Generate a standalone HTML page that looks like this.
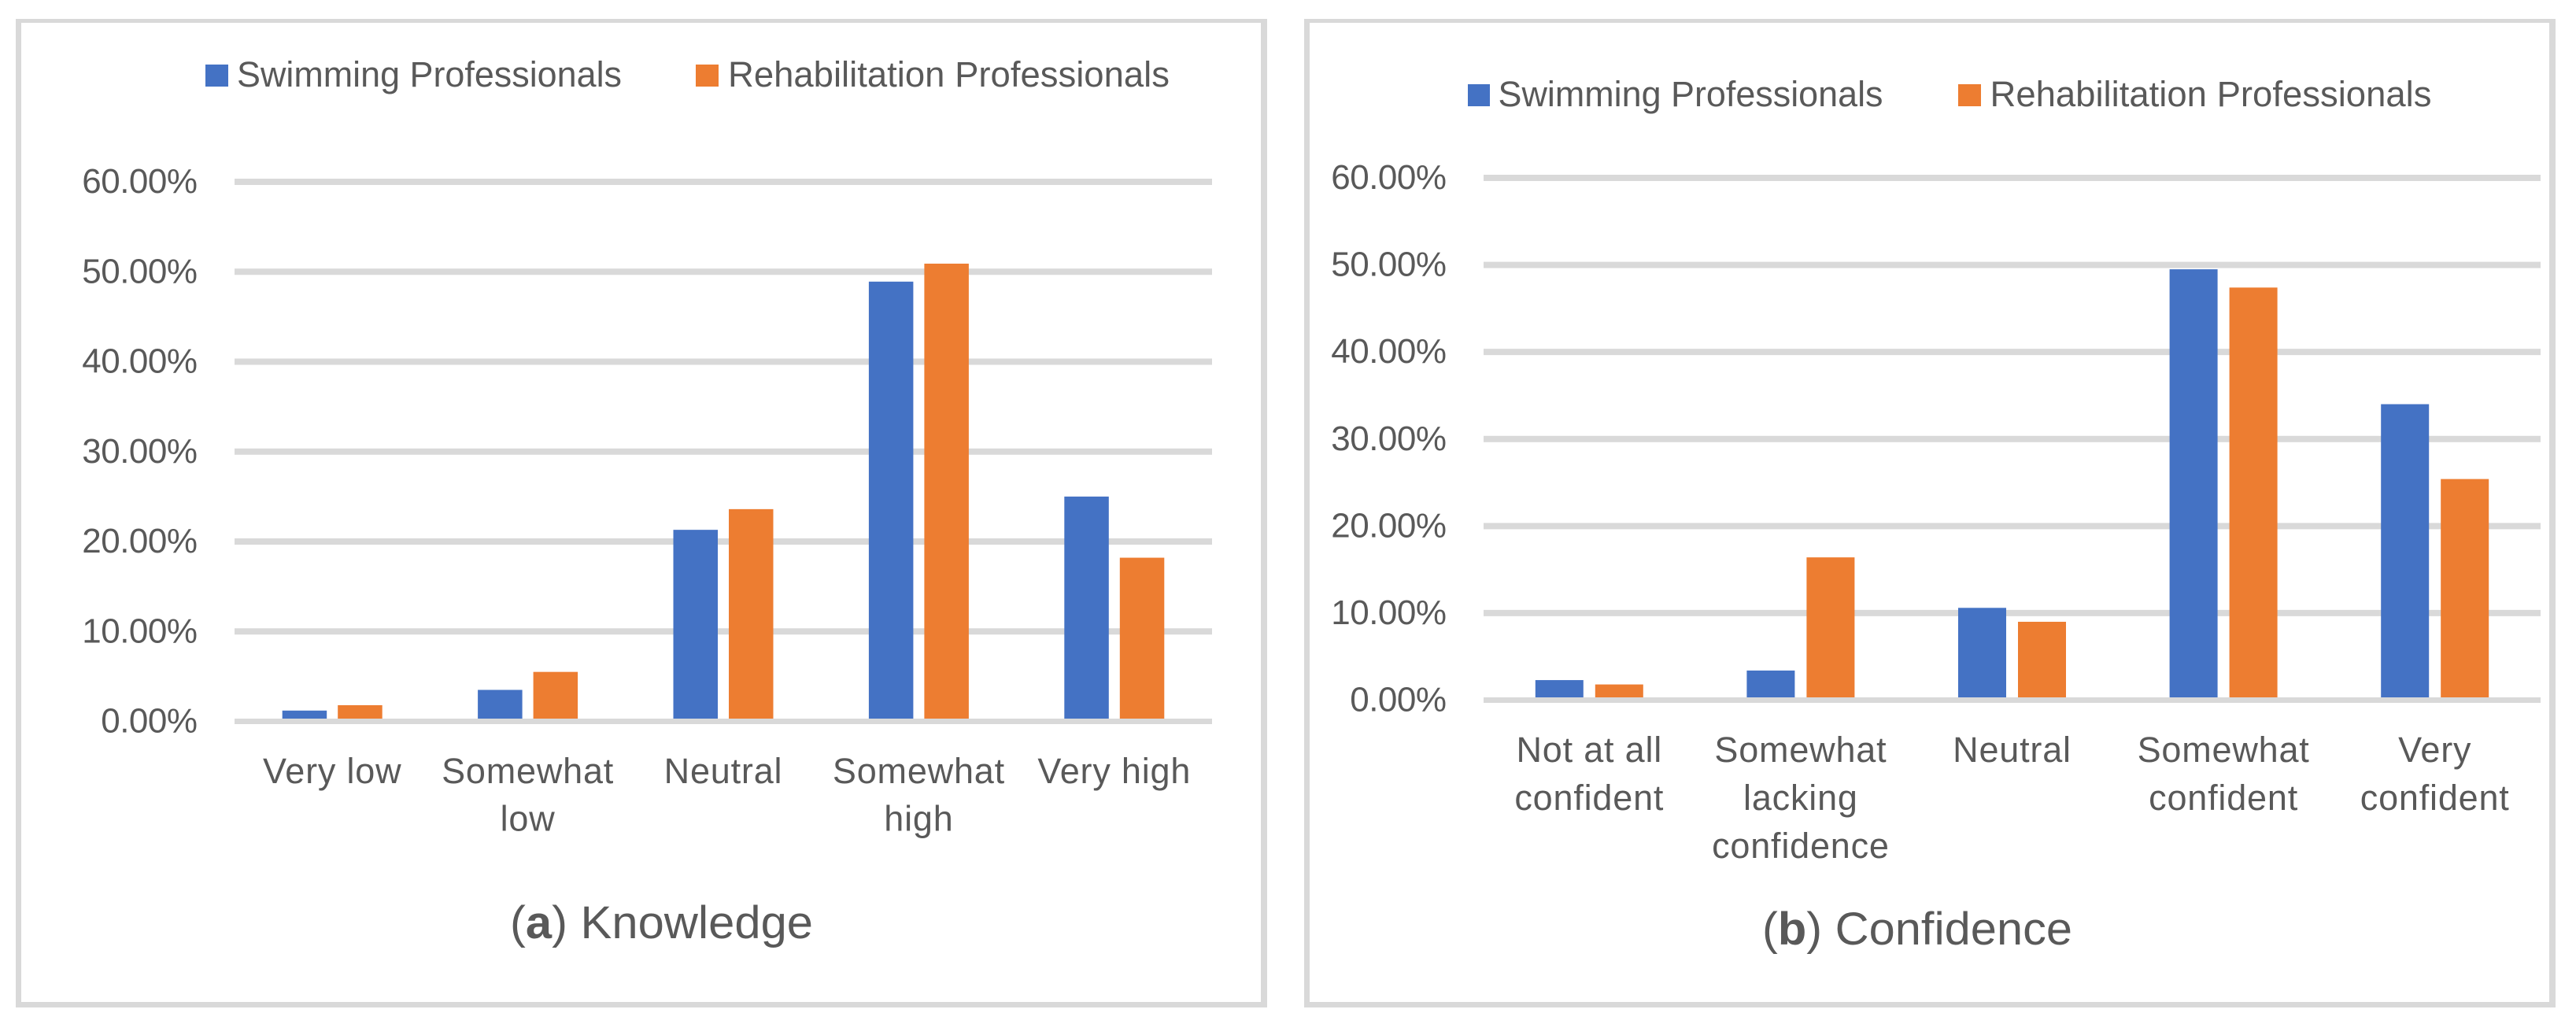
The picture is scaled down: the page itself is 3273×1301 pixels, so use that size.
<!DOCTYPE html>
<html lang="en">
<head>
<meta charset="utf-8">
<title>Knowledge and Confidence</title>
<style>
html,body{margin:0;padding:0;background:#fff;width:3273px;height:1301px;overflow:hidden}
svg{display:block}
text{font-family:"Liberation Sans",sans-serif;fill:#595959}
.tick{font-size:44px;letter-spacing:-0.5px;text-anchor:end}
.cat{font-size:45px;letter-spacing:0.8px;text-anchor:middle}
.leg{font-size:45px}
.ttl{font-size:58px}
</style>
</head>
<body>
<svg id="figure" xmlns="http://www.w3.org/2000/svg" width="3273" height="1301" viewBox="0 0 3273 1301">
  <rect x="0" y="0" width="3273" height="1301" fill="#fff"/>

  <g id="panel-a">
    <path fill="#d9d9d9" fill-rule="evenodd" d="M20 24H1610V1280H20ZM27 29V1273H1602V29Z"/>
    <g>
      <rect x="261" y="82" width="29" height="28" fill="#4472c4"/>
      <text class="leg" x="301" y="110" textLength="489" lengthAdjust="spacingAndGlyphs">Swimming Professionals</text>
      <rect x="884" y="82" width="29" height="28" fill="#ed7d31"/>
      <text class="leg" x="925" y="110" textLength="561" lengthAdjust="spacingAndGlyphs">Rehabilitation Professionals</text>
    </g>
    <text class="ttl" x="648" y="1192" textLength="385" lengthAdjust="spacingAndGlyphs">(<tspan font-weight="bold">a</tspan>) Knowledge</text>
  </g>

  <g id="panel-b">
    <path fill="#d9d9d9" fill-rule="evenodd" d="M1657 24H3247V1280H1657ZM1664 29V1273H3239V29Z"/>
    <g>
      <rect x="1865" y="107" width="28" height="28" fill="#4472c4"/>
      <text class="leg" x="1903.5" y="135" textLength="489" lengthAdjust="spacingAndGlyphs">Swimming Professionals</text>
      <rect x="2488" y="107" width="29" height="28" fill="#ed7d31"/>
      <text class="leg" x="2528.5" y="135" textLength="561" lengthAdjust="spacingAndGlyphs">Rehabilitation Professionals</text>
    </g>
    <text class="ttl" x="2239" y="1200" textLength="394" lengthAdjust="spacingAndGlyphs">(<tspan font-weight="bold">b</tspan>) Confidence</text>
  </g>
</svg>
<script>
const tickValues = [0, 10, 20, 30, 40, 50, 60];
const tickLabels = ['0.00%', '10.00%', '20.00%', '30.00%', '40.00%', '50.00%', '60.00%'];

const knowledgeCategories = [['Very low'], ['Somewhat', 'low'], ['Neutral'], ['Somewhat', 'high'], ['Very high']];
const knowledgeSwimming = [1.2, 3.5, 21.3, 48.9, 25.0];
const knowledgeRehab = [1.8, 5.5, 23.6, 50.9, 18.2];

const confidenceCategories = [['Not at all', 'confident'], ['Somewhat', 'lacking', 'confidence'], ['Neutral'], ['Somewhat', 'confident'], ['Very', 'confident']];
const confidenceSwimming = [2.3, 3.4, 10.6, 49.5, 34.0];
const confidenceRehab = [1.8, 16.4, 9.0, 47.4, 25.4];

const NS = 'http://www.w3.org/2000/svg';

function svgEl(parent, tag, attrs, txt) {
  const el = document.createElementNS(NS, tag);
  for (const k in attrs) el.setAttribute(k, attrs[k]);
  if (txt !== undefined) el.textContent = txt;
  parent.appendChild(el);
  return el;
}

function drawChart(panelId, cats, swim, rehab, g) {
  const panel = document.getElementById(panelId);
  const yScale = v => g.y0 - (v / 60) * (g.y0 - g.y60);
  const band = (g.x1 - g.x0) / cats.length;
  const xCenter = i => g.x0 + band * (i + 0.5);

  tickValues.forEach((v, i) => {
    if (v === 0) return;
    const line = svgEl(panel, 'line', {x1: g.x0, x2: g.x1, y1: yScale(v), y2: yScale(v), stroke: '#d9d9d9', 'stroke-width': 8});
    
    
  });

  tickValues.forEach((v, i) => {
    const t = svgEl(panel, 'text', {class: 'tick', x: g.tickX, y: yScale(v) + g.tickDy}, tickLabels[i]);
    
    
  });

  cats.forEach((lines, i) => {
    const c = xCenter(i);
    const blue = svgEl(panel, 'rect', {x: c - g.gap / 2 - g.barW, y: yScale(swim[i]), width: g.barW, height: yScale(0) - yScale(swim[i]), fill: '#4472c4'});
    
    
    const orange = svgEl(panel, 'rect', {x: c + g.gap / 2, y: yScale(rehab[i]), width: g.barW, height: yScale(0) - yScale(rehab[i]), fill: '#ed7d31'});
    
    
    lines.forEach((ln, j) => {
      const t = svgEl(panel, 'text', {class: 'cat', x: c, y: g.catY + j * g.catLine}, ln);
      
      
    });
  });

  const axis = svgEl(panel, 'line', {x1: g.x0, x2: g.x1, y1: yScale(0), y2: yScale(0), stroke: '#d9d9d9', 'stroke-width': 7});
  
  
}

drawChart('panel-a', knowledgeCategories, knowledgeSwimming, knowledgeRehab,
  {x0: 298, x1: 1540, y0: 916.5, y60: 231, barW: 56.5, gap: 14, tickX: 250.5, tickDy: 14, catY: 995, catLine: 60.5});
drawChart('panel-b', confidenceCategories, confidenceSwimming, confidenceRehab,
  {x0: 1885, x1: 3228, y0: 889.5, y60: 226, barW: 61, gap: 15, tickX: 1837.5, tickDy: 14, catY: 968, catLine: 61});
</script>
</body>
</html>
